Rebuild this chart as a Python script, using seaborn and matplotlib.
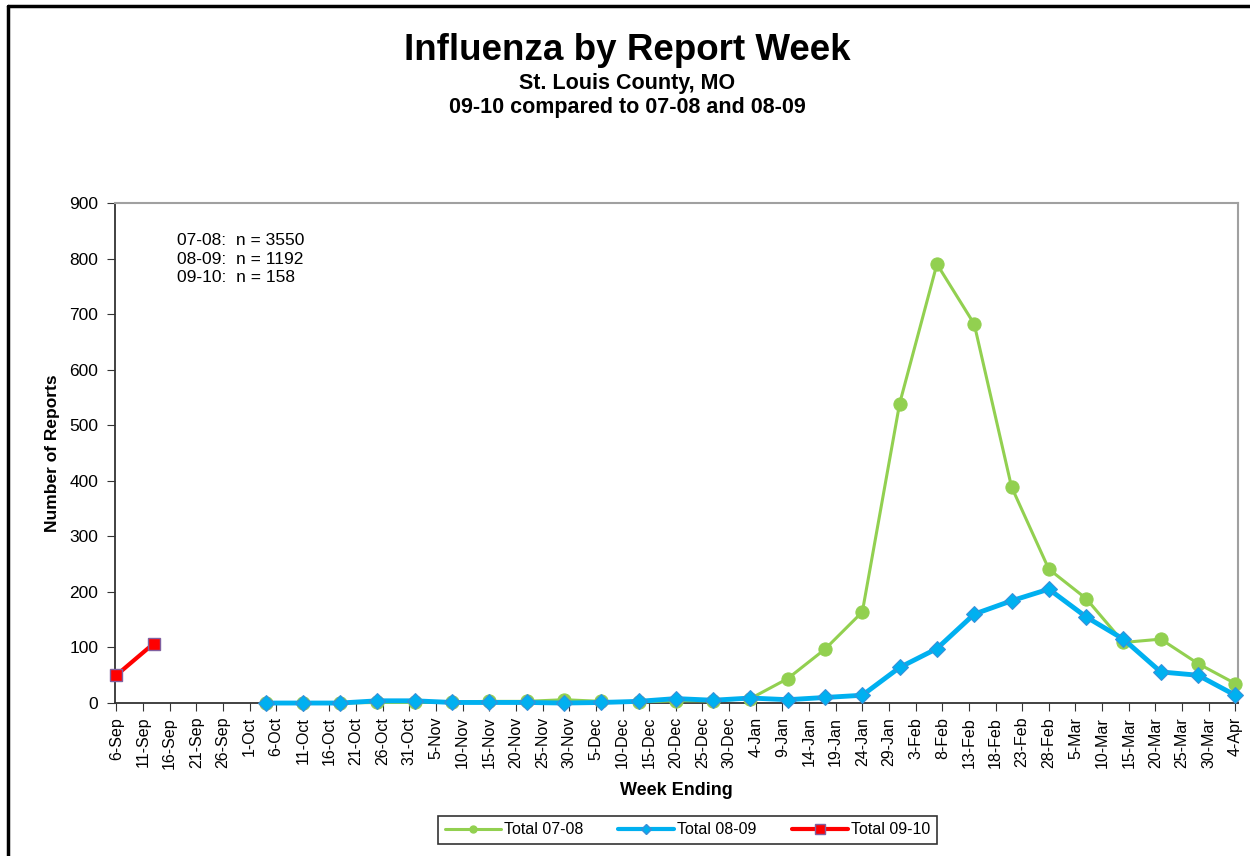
import matplotlib
matplotlib.use('Agg')
import matplotlib.pyplot as plt
from matplotlib.lines import Line2D
import seaborn as sns
import pandas as pd
import numpy as np

# week-ending dates (2009-10 season calendar)
weeks_main = pd.date_range('2009-10-04', '2010-04-04', freq='7D')
weeks_0910 = pd.to_datetime(['2009-09-06', '2009-09-13'])

total_0708 = [0, 0, 0, 1, 1, 2, 3, 3, 6, 3, 2, 4, 4, 8,
              44, 97, 164, 539, 790, 682, 389, 241, 188, 109, 115, 71, 35]
total_0809 = [0, 0, 0, 4, 4, 1, 1, 1, 0, 1, 3, 8, 5, 9,
              6, 10, 14, 64, 98, 160, 184, 205, 155, 115, 56, 50, 14]
total_0910 = [50, 107]

series_names = ['Total 07-08', 'Total 08-09', 'Total 09-10']
n_text = ['07-08:  n = 3550', '08-09:  n = 1192', '09-10:  n = 158']

sns.set_style('white')
plt.rcParams['font.family'] = ['Liberation Sans', 'DejaVu Sans']
plt.rcParams['text.color'] = 'black'
plt.rcParams['axes.labelcolor'] = 'black'
plt.rcParams['xtick.color'] = 'black'
plt.rcParams['ytick.color'] = 'black'

fig = plt.figure(figsize=(12.5, 8.56), dpi=100)
ax = fig.add_axes([0.092, 0.1787, 0.8984, 0.5842])

green = '#92D050'
blue = '#00B0F0'
red = '#FF0000'

df08 = pd.DataFrame({'week': weeks_main, 'n': total_0708})
df09 = pd.DataFrame({'week': weeks_main, 'n': total_0809})
df10 = pd.DataFrame({'week': weeks_0910, 'n': total_0910})

sns.lineplot(data=df08, x='week', y='n', ax=ax, color=green, lw=2.2,
             marker='o', markersize=9.5, markeredgecolor=green, zorder=3,
             clip_on=False)
sns.lineplot(data=df09, x='week', y='n', ax=ax, color=blue, lw=3.5,
             marker='D', markersize=8.5, markeredgecolor='#3A8FD8', zorder=4,
             clip_on=False)
sns.lineplot(data=df10, x='week', y='n', ax=ax, color=red, lw=3,
             marker='s', markersize=9, markeredgecolor='#8060A0',
             markeredgewidth=1, zorder=5, clip_on=False)

start = pd.Timestamp('2009-09-06')
end = pd.Timestamp('2010-04-04')
ax.set_xlim(start - pd.Timedelta(hours=6), end + pd.Timedelta(hours=12))
ax.set_ylim(0, 900)
ax.set_yticks(np.arange(0, 901, 100))

tick_dates = pd.date_range(start, end, freq='5D')
ax.set_xticks(tick_dates)
ax.set_xticklabels([f'{d.day}-{d.strftime("%b")}' for d in tick_dates],
                   rotation=90, fontsize=11.5)
ax.tick_params(axis='y', labelsize=12.5, length=6, direction='out',
               left=True, color='#333333', pad=6)
ax.tick_params(axis='x', length=6, direction='out', bottom=True,
               color='#333333', pad=4)

for side in ['left', 'bottom']:
    ax.spines[side].set_color('#333333')
    ax.spines[side].set_linewidth(1.3)
for side in ['top', 'right']:
    ax.spines[side].set_color('#A0A0A0')
    ax.spines[side].set_linewidth(1.5)

ax.set_xlabel('Week Ending', fontsize=13, fontweight='bold', labelpad=10)
ax.set_ylabel('Number of Reports', fontsize=12.5, fontweight='bold', labelpad=7)

ax.text(0.055, 0.94, '\n'.join(n_text), transform=ax.transAxes,
        fontsize=12.5, va='top', ha='left', linespacing=1.3)

fig.text(0.502, 0.941, 'Influenza by Report Week', ha='center', va='center',
         fontsize=26.5, fontweight='bold')
fig.text(0.502, 0.902, 'St. Louis County, MO', ha='center', va='center',
         fontsize=15.5, fontweight='bold')
fig.text(0.502, 0.875, '09-10 compared to 07-08 and 08-09', ha='center',
         va='center', fontsize=15.5, fontweight='bold')

handles = [
    Line2D([], [], color=green, lw=2.2, marker='o', markersize=5),
    Line2D([], [], color=blue, lw=3, marker='D', markersize=5,
           markeredgecolor='#3A8FD8'),
    Line2D([], [], color=red, lw=3, marker='s', markersize=7,
           markeredgecolor='#8060A0'),
]
leg = fig.legend(handles, series_names, loc='center',
                 bbox_to_anchor=(0.55, 0.0305), ncol=3, fontsize=11.5,
                 frameon=True, fancybox=False, handlelength=3.5,
                 handletextpad=0.2, columnspacing=2.2, borderpad=0.4)
leg.get_frame().set_edgecolor('black')
leg.get_frame().set_linewidth(1.2)

# chart area border (top and left visible)
fig.add_artist(Line2D([0.0064, 0.0064], [0, 0.9935], transform=fig.transFigure,
                      color='black', lw=2.5))
fig.add_artist(Line2D([0.0064, 1.0], [0.9935, 0.9935], transform=fig.transFigure,
                      color='black', lw=2.5))

fig.savefig('out.png', dpi=100)
